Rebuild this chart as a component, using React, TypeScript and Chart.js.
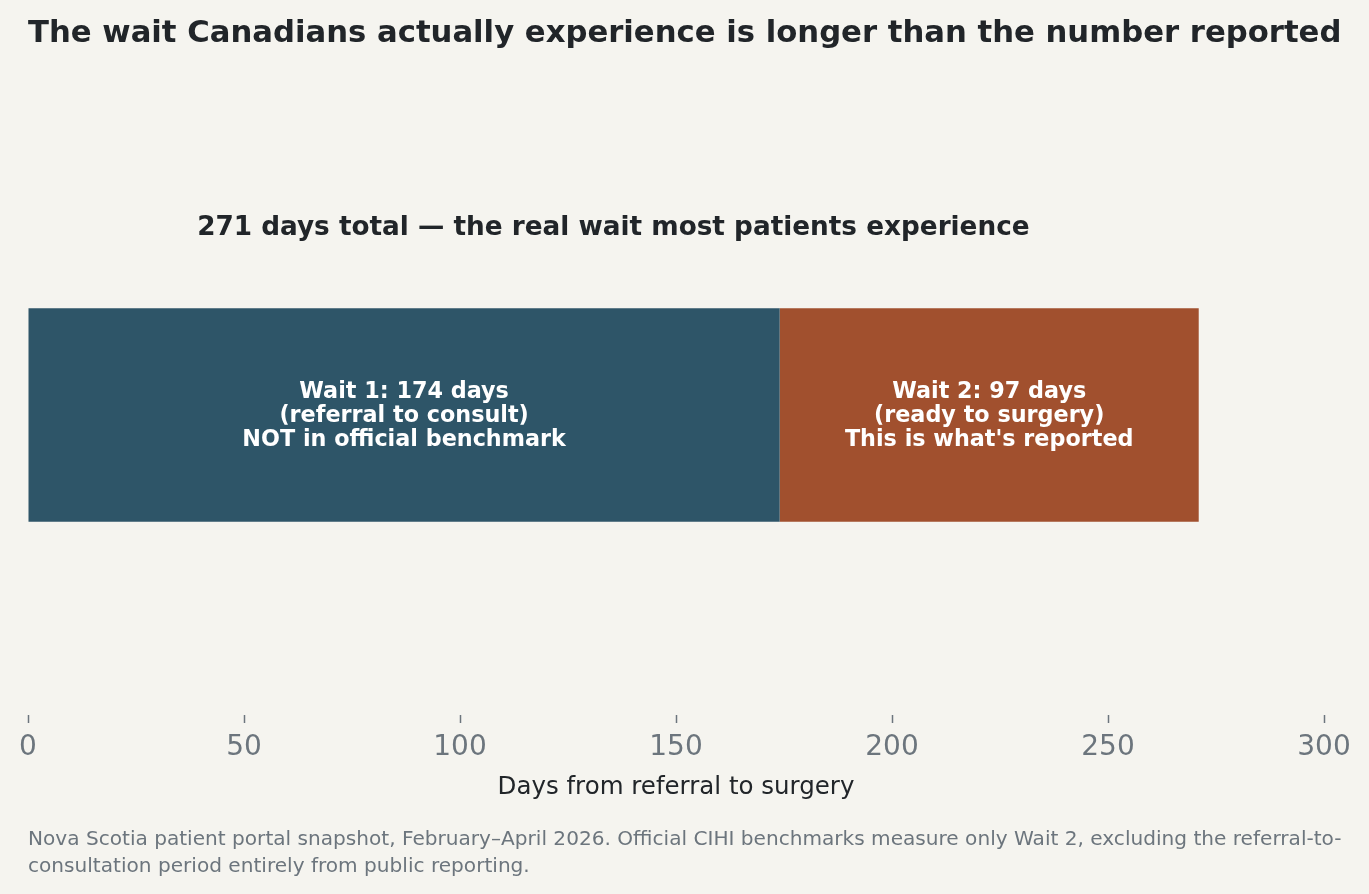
import { useEffect, useRef } from 'react';
import { Chart, registerables } from 'chart.js';

Chart.register(...registerables);

// data
const categories = ['Patient journey'];
const wait1Days = [174];
const wait2Days = [97];
const xTicks = [0, 50, 100, 150, 200, 250, 300];

const wait1Label = ['Wait 1: 174 days', '(referral to consult)', 'NOT in official benchmark'];
const wait2Label = ['Wait 2: 97 days', '(ready to surgery)', "This is what's reported"];
const totalNote = '271 days total \u2014 the real wait most patients experience';

const FONT = "'DejaVu Sans', Verdana, sans-serif";
const BG = '#F5F4EF';
const DARK = '#212529';
const GRAY = '#6C757D';

const barText = {
  id: 'barText',
  afterDatasetsDraw(chart: any) {
    const ctx = chart.ctx;
    const labels = [wait1Label, wait2Label];
    ctx.save();
    ctx.textAlign = 'center';
    ctx.textBaseline = 'middle';
    chart.data.datasets.forEach((_: any, i: number) => {
      const bar = chart.getDatasetMeta(i).data[0];
      if (!bar) return;
      const props = bar.getProps(['x', 'y', 'base', 'height'], true);
      const cx = (props.x + props.base) / 2;
      ctx.fillStyle = '#FFFFFF';
      ctx.font = `bold 22.3px ${FONT}`;
      labels[i].forEach((line, k) => {
        ctx.fillText(line, cx, props.y + 1 + (k - 1) * 24);
      });
    });
    // total note above the bar
    const last = chart.getDatasetMeta(1).data[0];
    if (last) {
      const p = last.getProps(['x', 'y', 'height'], true);
      const xs = chart.scales.x;
      const total = wait1Days[0] + wait2Days[0];
      ctx.fillStyle = DARK;
      ctx.font = `bold 26.3px ${FONT}`;
      ctx.fillText(totalNote, xs.getPixelForValue(total / 2), p.y - p.height / 2 - 80);
    }
    ctx.restore();
  },
};

export default function App() {
  const canvasRef = useRef<HTMLCanvasElement>(null);
  const chartRef = useRef<Chart | null>(null);

  useEffect(() => {
    document.body.style.margin = '0';
    document.body.style.background = BG;
    if (!canvasRef.current) return;
    if (chartRef.current) chartRef.current.destroy();

    chartRef.current = new Chart(canvasRef.current, {
      type: 'bar',
      data: {
        labels: categories,
        datasets: [
          {
            label: 'Wait 1',
            data: wait1Days,
            backgroundColor: '#2E5568',
            borderWidth: 0,
            barPercentage: 0.356,
            categoryPercentage: 1,
          },
          {
            label: 'Wait 2',
            data: wait2Days,
            backgroundColor: '#A1502E',
            borderWidth: 0,
            barPercentage: 0.356,
            categoryPercentage: 1,
          },
        ],
      },
      options: {
        indexAxis: 'y',
        animation: false,
        responsive: false,
        maintainAspectRatio: false,
        layout: { padding: { left: 28, right: 45, top: 115, bottom: 88 } },
        plugins: {
          legend: { display: false },
          tooltip: { enabled: false },
          title: { display: false },
        },
        scales: {
          y: { stacked: true, display: false },
          x: {
            stacked: true,
            min: 0,
            max: 300,
            afterBuildTicks: (axis: any) => {
              axis.ticks = xTicks.map((v) => ({ value: v }));
            },
            border: { display: false },
            grid: {
              drawOnChartArea: false,
              drawTicks: true,
              tickLength: 8,
              tickColor: GRAY,
              tickWidth: 1.5,
            },
            ticks: {
              color: GRAY,
              padding: 8,
              maxRotation: 0,
              autoSkip: false,
              font: { family: FONT, size: 28 },
            },
            title: {
              display: true,
              text: 'Days from referral to surgery',
              color: DARK,
              padding: { top: 0, bottom: 4 },
              font: { family: FONT, size: 24.5 },
            },
          },
        },
      },
      plugins: [barText],
    });

    return () => {
      if (chartRef.current) {
        chartRef.current.destroy();
        chartRef.current = null;
      }
    };
  }, []);

  return (
    <div style={{ position: 'fixed', left: 0, top: 0, width: 1369, height: 894, background: BG, fontFamily: FONT }}>
      <canvas ref={canvasRef} width={1369} height={894} style={{ position: 'absolute', left: 0, top: 0 }}></canvas>
      <div
        style={{
          position: 'absolute',
          left: 28,
          top: 16,
          fontSize: 30.7,
          lineHeight: '31px',
          fontWeight: 'bold',
          color: DARK,
          whiteSpace: 'nowrap',
        }}
      >
        The wait Canadians actually experience is longer than the number reported
      </div>
      <div
        style={{
          position: 'absolute',
          left: 28,
          top: 825,
          fontSize: 20.1,
          lineHeight: '27px',
          color: GRAY,
          whiteSpace: 'nowrap',
        }}
      >
        Nova Scotia patient portal snapshot, February–April 2026. Official CIHI benchmarks measure only Wait 2, excluding the referral-to-
        <br />
        consultation period entirely from public reporting.
      </div>
    </div>
  );
}
